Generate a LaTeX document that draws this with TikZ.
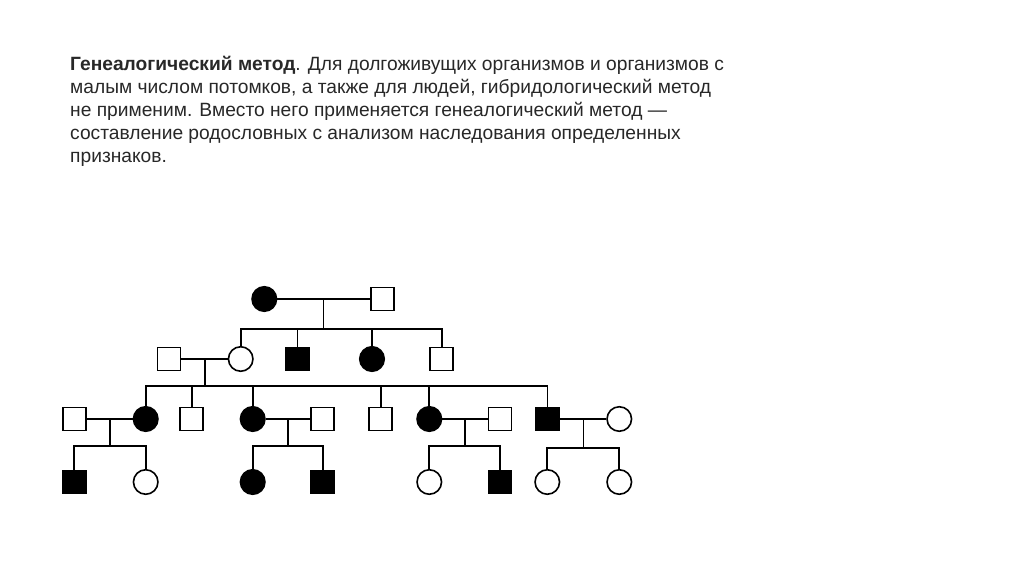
\documentclass[tikz,border=0pt]{standalone}
\usepackage{fontspec}
\setmainfont{Liberation Sans}
\usetikzlibrary{calc}
\definecolor{txt}{RGB}{40,40,40}
\begin{document}
\begin{tikzpicture}[x=1bp,y=-1bp,
  sq/.style={draw=black,line width=1.6bp,rectangle,minimum size=23bp,inner sep=0pt,fill=white},
  ci/.style={draw=black,line width=1.6bp,circle,minimum size=24.5bp,inner sep=0pt,fill=white},
  aff/.style={fill=black},
  ln/.style={line width=1.8bp,black},
  tl/.style={anchor=base west,inner sep=0pt,text=txt,font=\fontsize{19.2bp}{23bp}\selectfont}]
\useasboundingbox[fill=white] (0,0) rectangle (1024,574);
% text
\node[tl] (t1) at (70,70.3) {\textbf{Генеалогический метод}. Для долгоживущих организмов и организмов с};
\node[tl] (t2) at (70,93.4) {малым числом потомков, а также для людей, гибридологический метод};
\node[tl] (t3) at (70,116.4) {не применим. Вместо него применяется генеалогический метод —};
\node[tl] (t4) at (70,139.4) {составление родословных с анализом наследования определенных};
\node[tl] (t5) at (70,162.4) {признаков.};
% generation 1
\node[ci,aff] (A) at (264.3,299) {};
\node[sq] (B) at (382.5,299) {};
% generation 2
\node[sq] (C) at (169,359) {};
\node[ci] (D) at (240.7,359) {};
\node[sq,aff] (E) at (297.5,359) {};
\node[ci,aff] (F) at (372,359) {};
\node[sq] (G) at (441.7,359) {};
% generation 3
\node[sq] (H) at (74.3,419) {};
\node[ci,aff] (I) at (145.7,419) {};
\node[sq] (J) at (191.7,419) {};
\node[ci,aff] (K) at (252.7,419) {};
\node[sq] (L) at (322.7,419) {};
\node[sq] (M) at (380.7,419) {};
\node[ci,aff] (N) at (429.3,419) {};
\node[sq] (O) at (500,419) {};
\node[sq,aff] (P) at (547.5,419) {};
\node[ci] (Q) at (619.3,419) {};
% generation 4
\node[sq,aff] (R) at (74.3,482) {};
\node[ci] (S) at (145.7,482) {};
\node[ci,aff] (T) at (252.7,482) {};
\node[sq,aff] (U) at (322.7,482) {};
\node[ci] (V) at (429.3,482) {};
\node[sq,aff] (W) at (500,482) {};
\node[ci] (X) at (547.3,482) {};
\node[ci] (Y) at (619.3,482) {};
% marriage midpoints and sibship bars
\coordinate (mAB) at ($(A)!0.5!(B)$);
\coordinate (mCD) at ($(C)!0.5!(D)$);
\coordinate (mHI) at ($(H)!0.5!(I)$);
\coordinate (mKL) at ($(K)!0.5!(L)$);
\coordinate (mNO) at ($(N)!0.5!(O)$);
\coordinate (mPQ) at ($(P)!0.5!(Q)$);
\coordinate (b1) at ($(mAB)+(0,29.7)$);
\coordinate (b2) at ($(mCD)+(0,27)$);
\coordinate (b3) at ($(mHI)+(0,27)$);
\coordinate (b4) at ($(mKL)+(0,27)$);
\coordinate (b5) at ($(mNO)+(0,27)$);
\coordinate (b6) at ($(mPQ)+(0,29.3)$);
% marriages
\draw[ln] (A) -- (B);
\draw[ln] (C) -- (D);
\draw[ln] (H) -- (I);
\draw[ln] (K) -- (L);
\draw[ln] (N) -- (O);
\draw[ln] (P) -- (Q);
% descent lines
\draw[ln] (mAB) -- (b1);
\draw[ln] (mCD) -- (b2);
\draw[ln] (mHI) -- (b3);
\draw[ln] (mKL) -- (b4);
\draw[ln] (mNO) -- (b5);
\draw[ln] (mPQ) -- (b6);
% sibships
\draw[ln] (D) |- (b1) -| (G);
\draw[ln] (E) -- (E |- b1);
\draw[ln] (F) -- (F |- b1);
\draw[ln] (I) |- (b2) -| (P);
\draw[ln] (J) -- (J |- b2);
\draw[ln] (K) -- (K |- b2);
\draw[ln] (M) -- (M |- b2);
\draw[ln] (N) -- (N |- b2);
\draw[ln] (R) |- (b3) -| (S);
\draw[ln] (T) |- (b4) -| (U);
\draw[ln] (V) |- (b5) -| (W);
\draw[ln] (X) |- (b6) -| (Y);
\end{tikzpicture}
\end{document}
